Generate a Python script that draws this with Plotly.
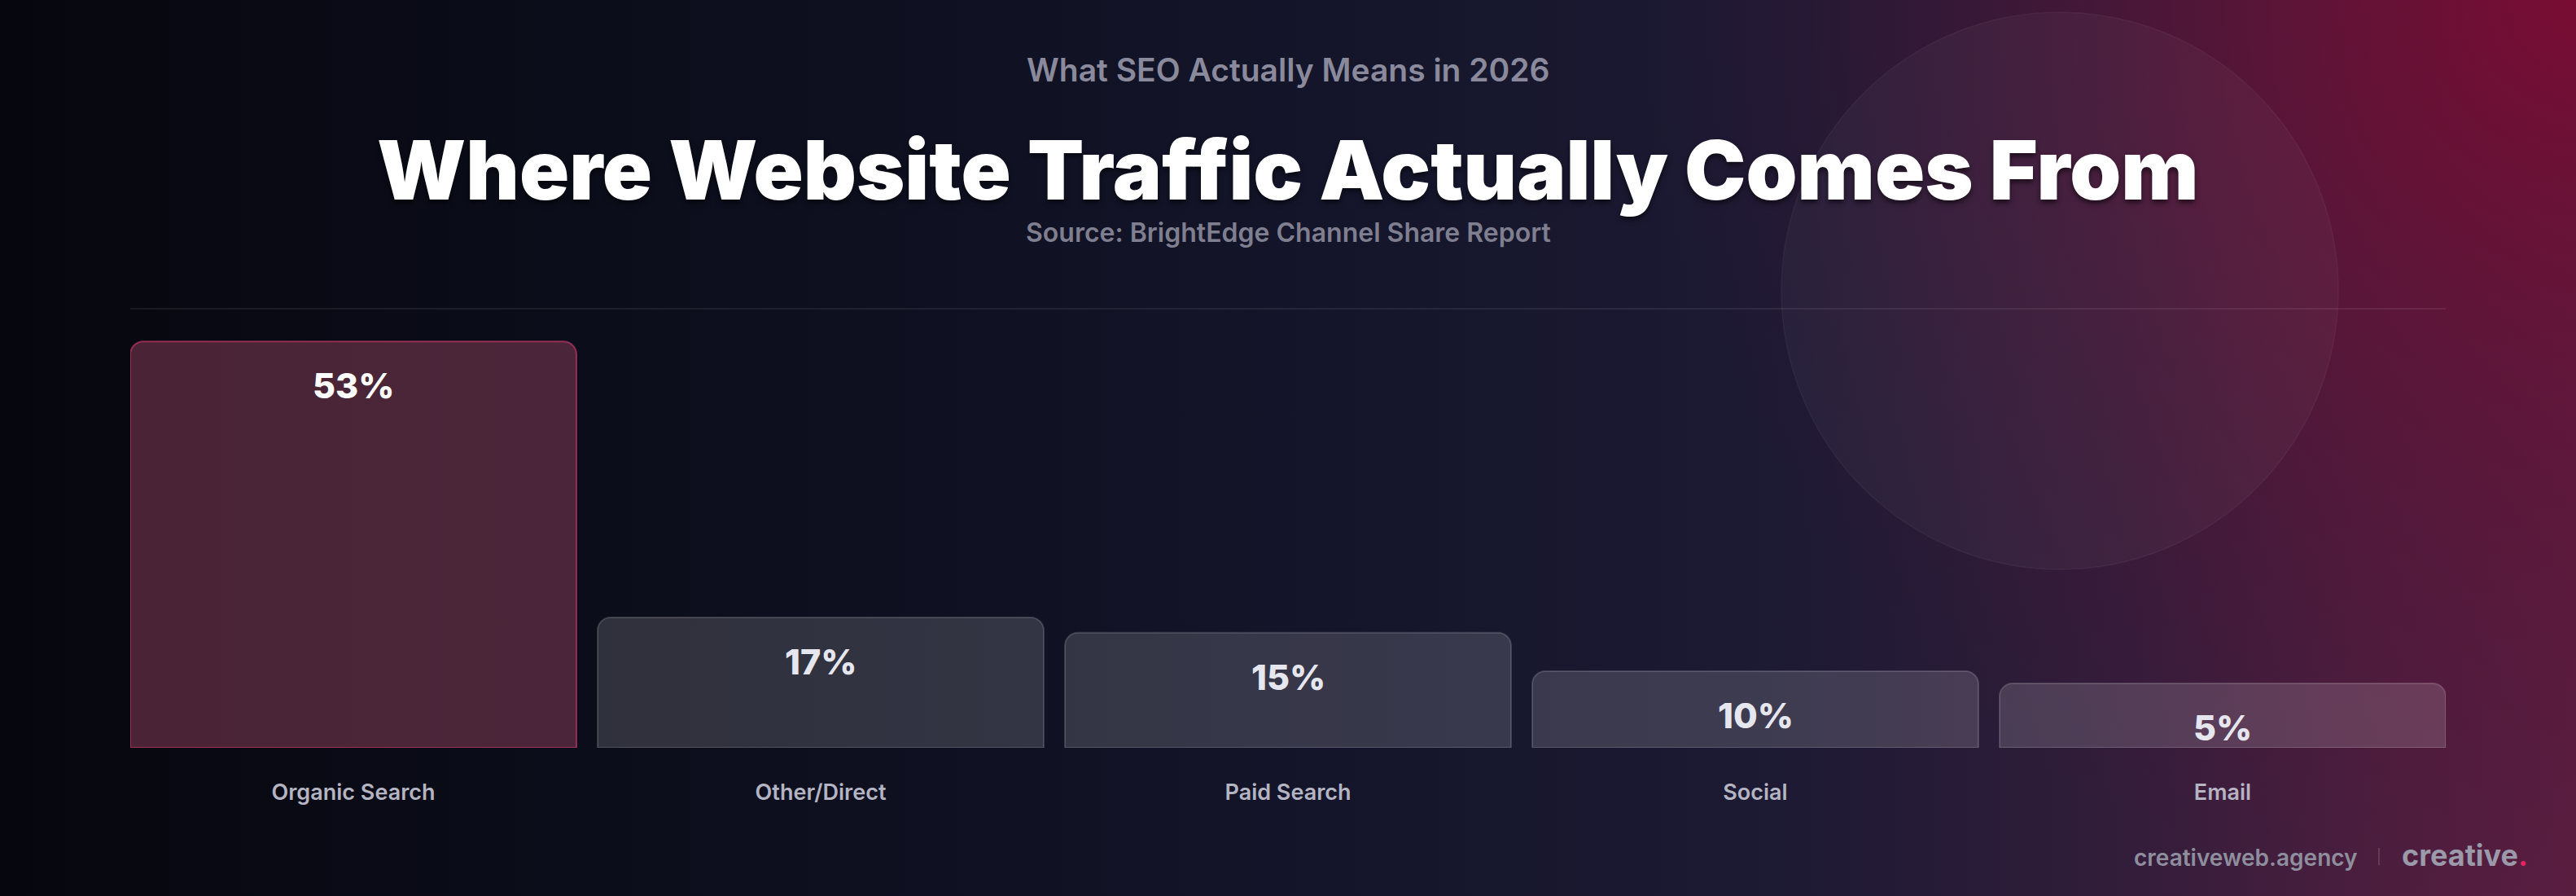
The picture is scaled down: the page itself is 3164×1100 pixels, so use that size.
import base64
import plotly.graph_objects as go

# ---------------- data ----------------
categories = ["Organic Search", "Other/Direct", "Paid Search", "Social", "Email"]
shares = [53, 17, 15, 10, 5]
value_labels = ["53%", "17%", "15%", "10%", "5%"]

eyebrow = "What SEO Actually Means in 2026"
title = "Where Website Traffic Actually Comes From"
source = "Source: BrightEdge Channel Share Report"
footer_site = "creativeweb.agency"

# ---------------- layout constants ----------------
W, H = 3164, 1100
ML, MR = 160, 160
PLOT_TOP, PLOT_BOTTOM = 379, 918
MT, MB = PLOT_TOP, H - PLOT_BOTTOM
PLOT_H = PLOT_BOTTOM - PLOT_TOP
PLOT_W = W - ML - MR
Y_MAX = 57.28
MIN_BAR = 8.4            # minimum visual bar height (in % units) for tiny shares
BAR_W = 548 / 574

x_pos = list(range(len(categories)))
bar_heights = [max(v, MIN_BAR) for v in shares]


def py(pix):
    """figure pixel y -> paper y"""
    return (PLOT_BOTTOM - pix) / PLOT_H


def px(pix):
    return (pix - ML) / PLOT_W


# ---------------- background (gradient SVG) ----------------
svg = f"""<svg xmlns='http://www.w3.org/2000/svg' width='{W}' height='{H}' viewBox='0 0 {W} {H}'>
<defs>
<linearGradient id='g' x1='0' y1='0' x2='1' y2='0'>
<stop offset='0' stop-color='#06070e'/>
<stop offset='0.30' stop-color='#0d0f1e'/>
<stop offset='0.55' stop-color='#15162c'/>
<stop offset='0.70' stop-color='#1e1a34'/>
<stop offset='0.82' stop-color='#311d3a'/>
<stop offset='0.92' stop-color='#4b1e3e'/>
<stop offset='1' stop-color='#5a1e40'/>
</linearGradient>
<radialGradient id='r' cx='{W}' cy='0' r='1150' gradientUnits='userSpaceOnUse'>
<stop offset='0' stop-color='#7a0b32' stop-opacity='0.95'/>
<stop offset='0.35' stop-color='#6a0e33' stop-opacity='0.55'/>
<stop offset='1' stop-color='#4a1238' stop-opacity='0'/>
</radialGradient>
</defs>
<rect width='{W}' height='{H}' fill='url(#g)'/>
<rect width='{W}' height='{H}' fill='url(#r)'/>
</svg>"""
bg_src = "data:image/svg+xml;base64," + base64.b64encode(svg.encode()).decode()

# ---------------- figure ----------------
fill_colors = ["rgba(127,59,84,0.56)"] + ["rgba(255,255,255,0.15)"] * 4
line_colors = ["rgba(190,55,100,0.7)"] + ["rgba(255,255,255,0.16)"] * 4

fig = go.Figure()
fig.add_trace(go.Bar(
    x=x_pos,
    y=bar_heights,
    width=BAR_W,
    marker=dict(color=fill_colors, line=dict(color=line_colors, width=2)),
    customdata=shares,
    hovertemplate="%{customdata}%<extra></extra>",
))

annotations = []
label_colors = ["#ffffff", "#e6e6ee", "#e6e6ee", "#e6e6ee", "#e6e6ee"]
for xi, h, lab, col in zip(x_pos, bar_heights, value_labels, label_colors):
    annotations.append(dict(
        x=xi, y=h, xref="x", yref="y", text=lab, showarrow=False,
        yanchor="middle", yshift=-54,
        font=dict(family="Inter", size=43, weight=800, color=col),
    ))

annotations += [
    dict(x=0.5, y=py(85), xref="paper", yref="paper", text=eyebrow, showarrow=False,
         xanchor="center", yanchor="middle",
         font=dict(family="Inter", size=39, weight=600, color="#8a8a9c")),
    dict(x=0.5, y=py(208), xref="paper", yref="paper", text=title, showarrow=False,
         xanchor="center", yanchor="middle",
         font=dict(family="Inter", size=101, weight=900, color="#ffffff",
                   shadow="0px 4px 6px rgba(0,0,0,0.55)")),
    dict(x=0.5, y=py(285), xref="paper", yref="paper", text=source, showarrow=False,
         xanchor="center", yanchor="middle",
         font=dict(family="Inter", size=32, weight=600, color="#7f7f90")),
    dict(x=px(2898), y=py(1053), xref="paper", yref="paper", text=footer_site, showarrow=False,
         xanchor="right", yanchor="middle",
         font=dict(family="Inter", size=28, weight=600, color="#8e8e9e")),
    dict(x=px(2948), y=py(1050), xref="paper", yref="paper",
         text="creative<span style='color:#e3245f'>.</span>", showarrow=False,
         xanchor="left", yanchor="middle",
         font=dict(family="Inter", size=36, weight=700, color="#9a9aaa")),
]

shapes = [
    # divider line
    dict(type="line", xref="paper", yref="paper", x0=0, x1=1, y0=1, y1=1,
         line=dict(color="rgba(255,255,255,0.10)", width=1.5), layer="below"),
    # decorative circle
    dict(type="circle", xref="paper", yref="paper",
         x0=px(2530 - 342), x1=px(2530 + 342), y0=py(357 + 342), y1=py(357 - 342),
         fillcolor="rgba(255,255,255,0.035)", line=dict(color="rgba(255,255,255,0.05)", width=1.5),
         layer="below"),
    # footer separator
    dict(type="line", xref="paper", yref="paper", x0=px(2922), x1=px(2922), y0=py(1041), y1=py(1062),
         line=dict(color="rgba(255,255,255,0.18)", width=1.5)),
]

fig.update_layout(
    width=W, height=H,
    margin=dict(l=ML, r=MR, t=MT, b=MB, pad=0),
    paper_bgcolor="#0a0b16",
    plot_bgcolor="rgba(0,0,0,0)",
    barcornerradius=16,
    showlegend=False,
    annotations=annotations,
    shapes=shapes,
    images=[dict(source=bg_src, xref="paper", yref="paper",
                 x=-ML / PLOT_W, y=PLOT_BOTTOM / PLOT_H,
                 sizex=W / PLOT_W, sizey=H / PLOT_H,
                 xanchor="left", yanchor="top", sizing="stretch", layer="below")],
    xaxis=dict(range=[-BAR_W / 2, len(categories) - 1 + BAR_W / 2],
               tickvals=x_pos, ticktext=categories,
               showgrid=False, zeroline=False, showline=False, ticks="",
               ticklabelstandoff=36, fixedrange=True,
               tickfont=dict(family="Inter", size=27, weight=600, color="#b4b4c2")),
    yaxis=dict(range=[0, Y_MAX], visible=False, showgrid=False, zeroline=False, fixedrange=True),
)

fig.write_html("out.html", config={"displayModeBar": False})
